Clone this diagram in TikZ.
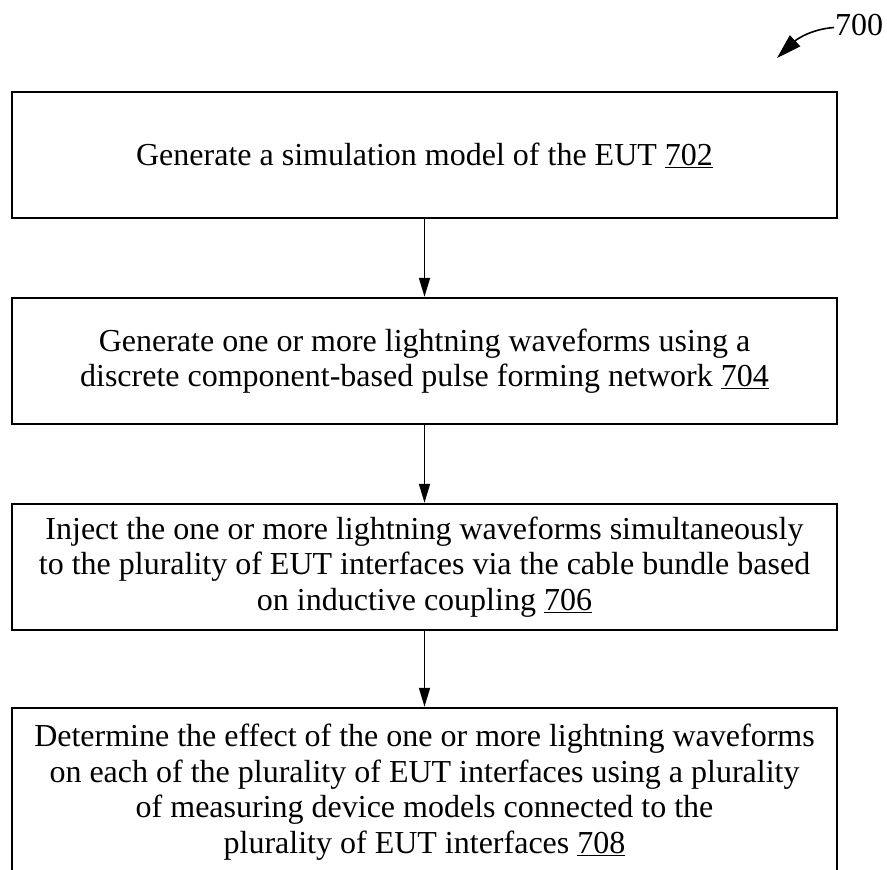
\documentclass[tikz,border=0pt]{standalone}
\usepackage{fontspec}
\setmainfont{Liberation Serif}
\usetikzlibrary{arrows.meta}
\tikzset{
  stepbox/.style={draw=black, line width=2.5pt, minimum width=825pt, inner sep=0pt,
    align=center, font=\fontsize{32}{35.5}\selectfont},
  flow/.style={line width=1.8pt, -{Triangle[length=19pt,width=11pt]}},
  refarrow/.style={line width=1.6pt, -{Triangle[length=25pt,width=15pt]}},
}
\begin{document}
\begin{tikzpicture}[x=1pt,y=-1pt]
\clip (0,0) rectangle (887,870);
\fill[white] (0,0) rectangle (887,870);

\node[stepbox, minimum height=126pt] (b1) at (424.5,155) {Generate a simulation model of the EUT \underline{702}};
\node[stepbox, minimum height=126pt] (b2) at (424.5,361) {Generate one or more lightning waveforms using a\\discrete component-based pulse forming network \underline{704}};
\node[stepbox, minimum height=126pt] (b3) at (424.5,567) {Inject the one or more lightning waveforms simultaneously\\to the plurality of EUT interfaces via the cable bundle based\\on inductive coupling \underline{706}};
\node[stepbox, minimum height=168pt] (b4) at (424.5,792) {Determine the effect of the one or more lightning waveforms\\on each of the plurality of EUT interfaces using a plurality\\of measuring device models connected to the\\plurality of EUT interfaces \underline{708}};

\draw[flow] (b1.south) -- (b2.north);
\draw[flow] (b2.south) -- (b3.north);
\draw[flow] (b3.south) -- (b4.north);

\node[anchor=base west, inner sep=0pt, font=\fontsize{32}{35.5}\selectfont] (lbl) at (835,35) {700};
\coordinate (tip) at (777,58);
\draw[refarrow] ([xshift=-1pt,yshift=-3pt]lbl.west) .. controls (812,29) and (797,39) .. (tip);
\end{tikzpicture}
\end{document}
